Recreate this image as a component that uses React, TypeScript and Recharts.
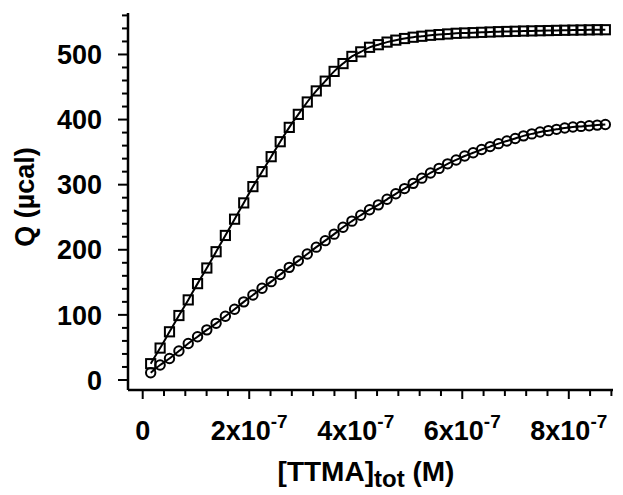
import React from "react";
import { LineChart, Line, XAxis, YAxis } from "recharts";

// total TTMA concentration, in units of 1e-7 M
const concE7 = [
  0.15, 0.327, 0.503, 0.68, 0.855, 1.03, 1.204, 1.378, 1.552, 1.725, 1.897, 2.069, 2.241,
  2.412, 2.582, 2.752, 2.922, 3.09, 3.259, 3.427, 3.594, 3.761, 3.928, 4.094, 4.259, 4.424,
  4.588, 4.752, 4.916, 5.078, 5.241, 5.403, 5.564, 5.725, 5.885, 6.045, 6.204, 6.363, 6.522,
  6.68, 6.837, 6.994, 7.15, 7.306, 7.461, 7.616, 7.77, 7.924, 8.077, 8.23, 8.383, 8.534, 8.686,
];

const squareQ = [
  25, 49, 74, 99, 123, 148, 172, 197, 222, 247, 272, 297, 320, 343, 366, 388, 408, 427, 444,
  459, 474, 486, 497, 504, 511, 515, 519, 522, 524.5, 526.5, 528, 529.5, 530.5, 531.5, 532.5,
  533, 533.5, 534, 534.5, 535, 535.3, 535.6, 536, 536.2, 536.5, 536.7, 537, 537.2, 537.4,
  537.6, 537.8, 538, 538,
];

const circleQ = [
  11, 23, 33, 44.5, 56, 66.5, 77, 87, 98, 108.6, 120, 130.6, 141, 151, 162, 173, 183, 193.5,
  204, 214, 224, 234.5, 244, 253, 261.5, 269, 277.5, 286, 294, 302, 310, 318, 325, 332, 338,
  344, 349, 354, 358.5, 363, 367, 371, 375, 378, 381, 383, 385, 387, 388.5, 389.5, 390.5,
  391.5, 392.5,
];

const xMajor = [0, 2e-7, 4e-7, 6e-7, 8e-7];
const xMinor = [4e-8, 8e-8, 1.2e-7, 1.6e-7, 2.4e-7, 2.8e-7, 3.2e-7, 3.6e-7, 4.4e-7, 4.8e-7, 5.2e-7, 5.6e-7, 6.4e-7, 6.8e-7, 7.2e-7, 7.6e-7, 8.4e-7, 8.8e-7];
const yMajor = [0, 100, 200, 300, 400, 500];
const yMinor = [20, 40, 60, 80, 120, 140, 160, 180, 220, 240, 260, 280, 320, 340, 360, 380, 420, 440, 460, 480, 520, 540, 560];

const data = concE7.map((c, i) => ({ x: c * 1e-7, sq: squareQ[i], ci: circleQ[i] }));

const FONT = "'Liberation Sans', Arial, Helvetica, sans-serif";

const isMajor = (list: number[], v: number) => list.some((m) => Math.abs(m - v) < 1e-12);

const XTick = (props: any) => {
  const { x, y, payload } = props;
  const v = payload.value;
  const major = isMajor(xMajor, v);
  const mant = Math.round(v / 1e-7);
  return (
    <g>
      <line x1={x} x2={x} y1={y} y2={y + (major ? 9 : 6)} stroke="#000" strokeWidth={2} />
      {major && (
        <text x={x} y={y + 50} textAnchor="middle" fontFamily={FONT} fontWeight="bold" fontSize={27} fill="#000">
          {mant === 0 ? (
            "0"
          ) : (
            <>
              {`${mant}x10`}
              <tspan dy={-12} fontSize={19}>-7</tspan>
            </>
          )}
        </text>
      )}
    </g>
  );
};

const YTick = (props: any) => {
  const { x, y, payload } = props;
  const v = payload.value;
  const major = isMajor(yMajor, v);
  return (
    <g>
      <line x1={x} x2={x - (major ? 10 : 6)} y1={y} y2={y} stroke="#000" strokeWidth={2} />
      {major && (
        <text x={102} y={y} dy="0.36em" textAnchor="end" fontFamily={FONT} fontWeight="bold" fontSize={27} fill="#000">
          {v}
        </text>
      )}
    </g>
  );
};

const SquareDot = (props: any) => {
  const { cx, cy, index } = props;
  return <rect key={`s${index}`} x={cx - 4.6} y={cy - 4.6} width={9.2} height={9.2} fill="none" stroke="#000" strokeWidth={2} />;
};

const CircleDot = (props: any) => {
  const { cx, cy, index } = props;
  return <circle key={`c${index}`} cx={cx} cy={cy} r={4.7} fill="none" stroke="#000" strokeWidth={2} />;
};

export default function App() {
  return (
    <div style={{ position: "absolute", left: 0, top: 0, background: "#fff" }}>
      <LineChart width={623} height={495} data={data} margin={{ top: 13, right: 10, bottom: 0, left: 0 }}>
        <XAxis
          dataKey="x"
          type="number"
          domain={[-0.276e-7, 8.83e-7]}
          ticks={[...xMajor, ...xMinor]}
          tick={<XTick />}
          tickLine={false}
          tickSize={0}
          tickMargin={0}
          height={105}
          axisLine={{ stroke: "#000", strokeWidth: 2.5 }}
          allowDataOverflow
          interval={0}
          label={{
            content: () => (
              <text x={366} y={481} textAnchor="middle" fontFamily={FONT} fontWeight="bold" fontSize={28} fill="#000">
                [TTMA]
                <tspan dy={6} fontSize={24}>tot</tspan>
                <tspan dy={-6}> (M)</tspan>
              </text>
            ),
          }}
        />
        <YAxis
          type="number"
          domain={[-15.4, 563.7]}
          ticks={[...yMajor, ...yMinor]}
          tick={<YTick />}
          tickLine={false}
          tickSize={0}
          tickMargin={0}
          width={128}
          axisLine={{ stroke: "#000", strokeWidth: 2.5 }}
          allowDataOverflow
          interval={0}
          label={{
            content: () => (
              <text
                x={0}
                y={0}
                transform="translate(34,197) rotate(-90)"
                textAnchor="middle"
                fontFamily={FONT}
                fontWeight="bold"
                fontSize={27}
                fill="#000"
              >
                Q (µcal)
              </text>
            ),
          }}
        />
        <Line
          dataKey="sq"
          type="monotone"
          stroke="#000"
          strokeWidth={2}
          dot={SquareDot}
          activeDot={false}
          isAnimationActive={false}
        />
        <Line
          dataKey="ci"
          type="monotone"
          stroke="#000"
          strokeWidth={2}
          dot={CircleDot}
          activeDot={false}
          isAnimationActive={false}
        />
      </LineChart>
    </div>
  );
}
